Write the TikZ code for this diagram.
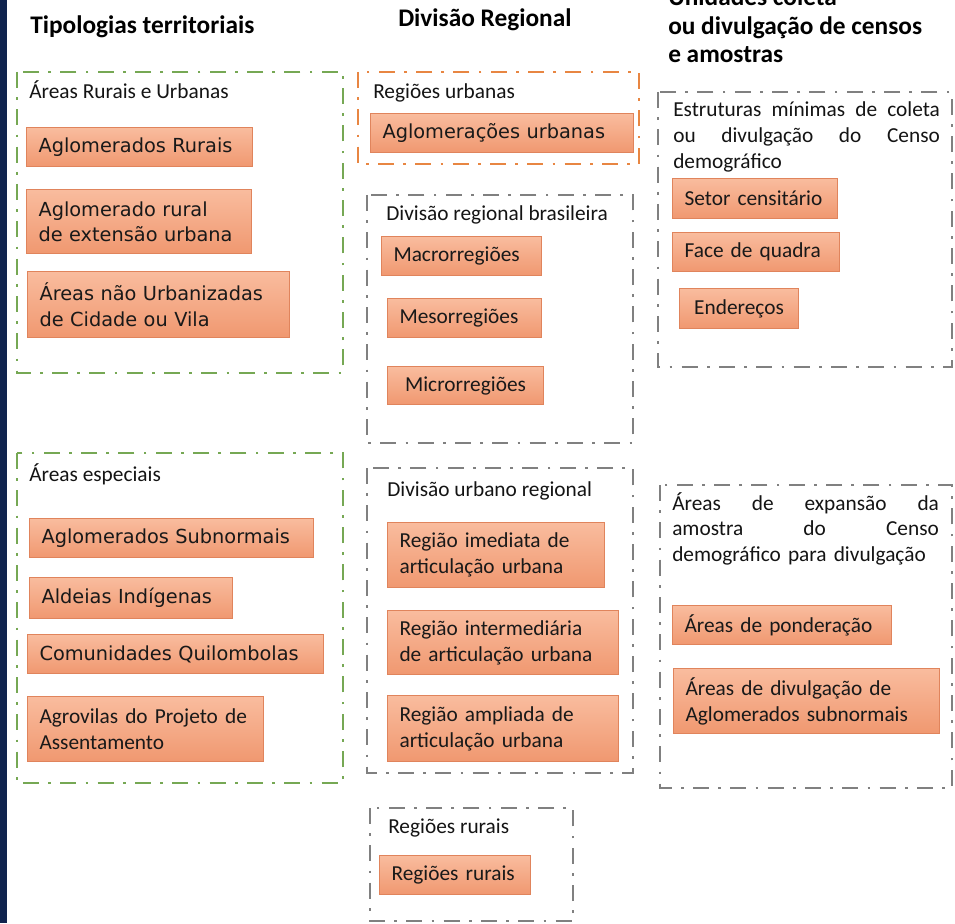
\documentclass[tikz,border=0pt]{standalone}
\usepackage{fontspec}
\setmainfont{Carlito}
\newfontfamily\widefont{DejaVu Sans}
\definecolor{boxtop}{RGB}{249,188,158}
\definecolor{boxbot}{RGB}{240,152,112}

\begin{document}
\begin{tikzpicture}[x=0.75pt,y=0.75pt,yscale=-1,xscale=1,
  frame/.style={line width=1.8pt,dash pattern=on 12pt off 7pt on 2pt off 7pt},
  greenframe/.style={frame,line width=2.2pt,color={rgb, 255:red, 118; green, 168; blue, 84 }},
  orangeframe/.style={frame,color={rgb, 255:red, 232; green, 134; blue, 66 }},
  grayframe/.style={frame,color={rgb, 255:red, 128; green, 128; blue, 128 }},
  item/.style={draw={rgb, 255:red, 224; green, 132; blue, 92 },line width=0.8pt,top color=boxtop,bottom color=boxbot,
    anchor=north west,inner xsep=9pt,inner ysep=0pt,align=left,text={rgb, 255:red, 25; green, 25; blue, 25 },
    font=\fontsize{16}{19.5}\selectfont},
  wideitem/.style={item,font=\widefont\fontsize{14.5}{19}\selectfont},
  lbl/.style={anchor=base west,inner sep=0pt,text={rgb, 255:red, 20; green, 20; blue, 20 },font=\fontsize{16}{19.3}\selectfont},
  ttl/.style={anchor=base west,inner sep=0pt,font=\fontsize{19}{21}\selectfont\bfseries}]
\fill [white] (0,0) rectangle (955,923);
\useasboundingbox (0,0) rectangle (955,923);

%Shape: Rectangle
\fill [color={rgb, 255:red, 16; green, 36; blue, 78 }] (0,0) rectangle (7,923);

%Shape: Rectangle
\draw [greenframe] (17,72) rectangle (343,373);
%Shape: Rectangle
\draw [greenframe] (17,453) rectangle (343,783);
%Shape: Rectangle
\draw [orangeframe] (358,72) rectangle (639,164);
%Shape: Rectangle
\draw [grayframe] (367,195) rectangle (633,443);
%Shape: Rectangle
\draw [grayframe] (367,468) rectangle (633,773);
%Shape: Rectangle
\draw [grayframe] (370,808) rectangle (573,921);
%Shape: Rectangle
\draw [grayframe] (658,92) rectangle (952,367);
%Shape: Rectangle
\draw [grayframe] (660,485) rectangle (952,788);

% Text Node
\node [ttl] (ttlTipologias) at (30,34) {Tipologias territoriais};
% Text Node
\node [ttl] (ttlDivisao) at (398,27) {Divisão Regional};
% Text Node
\node [ttl] (ttlUnidadesA) at (668,6) {Unidades coleta};
\node [ttl] (ttlUnidadesB) at (668,35) {ou divulgação de censos};
\node [ttl] (ttlUnidadesC) at (668,63) {e amostras};

% Text Node
\node [lbl] (lblRuraisUrbanas) at (29,99) {Áreas Rurais e Urbanas};
\node [wideitem,text width=151.5pt,minimum height=29.25pt] (aglRurais) at (26,127) {Aglomerados Rurais};
\node [wideitem,text width=150.75pt,minimum height=48pt] (aglExtensao) at (26,189) {Aglomerado rural\\de extensão urbana};
\node [wideitem,text width=178.5pt,minimum height=49.5pt] (naoUrbanizadas) at (27,271) {Áreas não Urbanizadas\\de Cidade ou Vila};

% Text Node
\node [lbl] (lblEspeciais) at (29,481) {Áreas especiais};
\node [wideitem,text width=195pt,minimum height=29.25pt] (aglSubnormais) at (29,518) {Aglomerados Subnormais};
\node [wideitem,text width=134.25pt,minimum height=30.75pt] (aldeias) at (29,577) {Aldeias Indígenas};
\node [wideitem,text width=204pt,minimum height=29.25pt] (quilombolas) at (27,634) {Comunidades Quilombolas};
\node [item,text width=159pt,minimum height=48.75pt] (agrovilas) at (27,696) {Agrovilas do Projeto de\\Assentamento};

% Text Node
\node [lbl] (lblRegUrbanas) at (373,99) {Regiões urbanas};
\node [wideitem,text width=179.25pt,minimum height=29.25pt] (aglUrbanas) at (370,113) {Aglomerações urbanas};

% Text Node
\node [lbl] (lblRegBrasileira) at (386,221) {Divisão regional brasileira};
\node [item,text width=102pt,minimum height=29.25pt] (macro) at (381,236) {Macrorregiões};
\node [item,text width=97.5pt,minimum height=29.25pt] (meso) at (387,298) {Mesorregiões};
\node [item,text width=99pt,minimum height=28.5pt,align=center] (micro) at (387,366) {Microrregiões};

% Text Node
\node [lbl] (lblUrbRegional) at (387,496) {Divisão urbano regional};
\node [item,text width=144.75pt,minimum height=48.75pt] (imediata) at (387,522) {Região imediata de\\articulação urbana};
\node [item,text width=155.25pt,minimum height=48pt] (intermediaria) at (387,610) {Região intermediária\\de articulação urbana};
\node [item,text width=155.25pt,minimum height=49.5pt] (ampliada) at (387,695) {Região ampliada de\\articulação urbana};

% Text Node
\node [lbl] (lblRegRurais) at (388,833) {Regiões rurais};
\node [item,text width=95.25pt,minimum height=29.25pt] (regRurais) at (379,855) {Regiões rurais};

% Text Node
\node [lbl,text width=200pt,align=left] (lblEstruturas) at (673,117) {Estruturas\hfill mínimas\hfill de\hfill coleta\\ou\hfill divulgação\hfill do\hfill Censo\\demográfico};
\node [item,text width=105.75pt,minimum height=30pt] (setor) at (672,178) {Setor censitário};
\node [item,text width=107.25pt,minimum height=29.25pt] (face) at (672,232) {Face de quadra};
\node [item,text width=71.25pt,minimum height=30pt,align=center] (enderecos) at (679,288) {Endereços};

% Text Node
\node [lbl,text width=200pt,align=left] (lblExpansao) at (672,510) {Áreas\hfill de\hfill expansão\hfill da\\amostra\hfill do\hfill Censo\\demográfico para divulgação};
\node [item,text width=146.25pt,minimum height=29.25pt] (ponderacao) at (672,605) {Áreas de ponderação};
\node [item,text width=181.5pt,minimum height=48.75pt] (divulgacao) at (673,668) {Áreas de divulgação de\\Aglomerados subnormais};

\end{tikzpicture}
\end{document}
